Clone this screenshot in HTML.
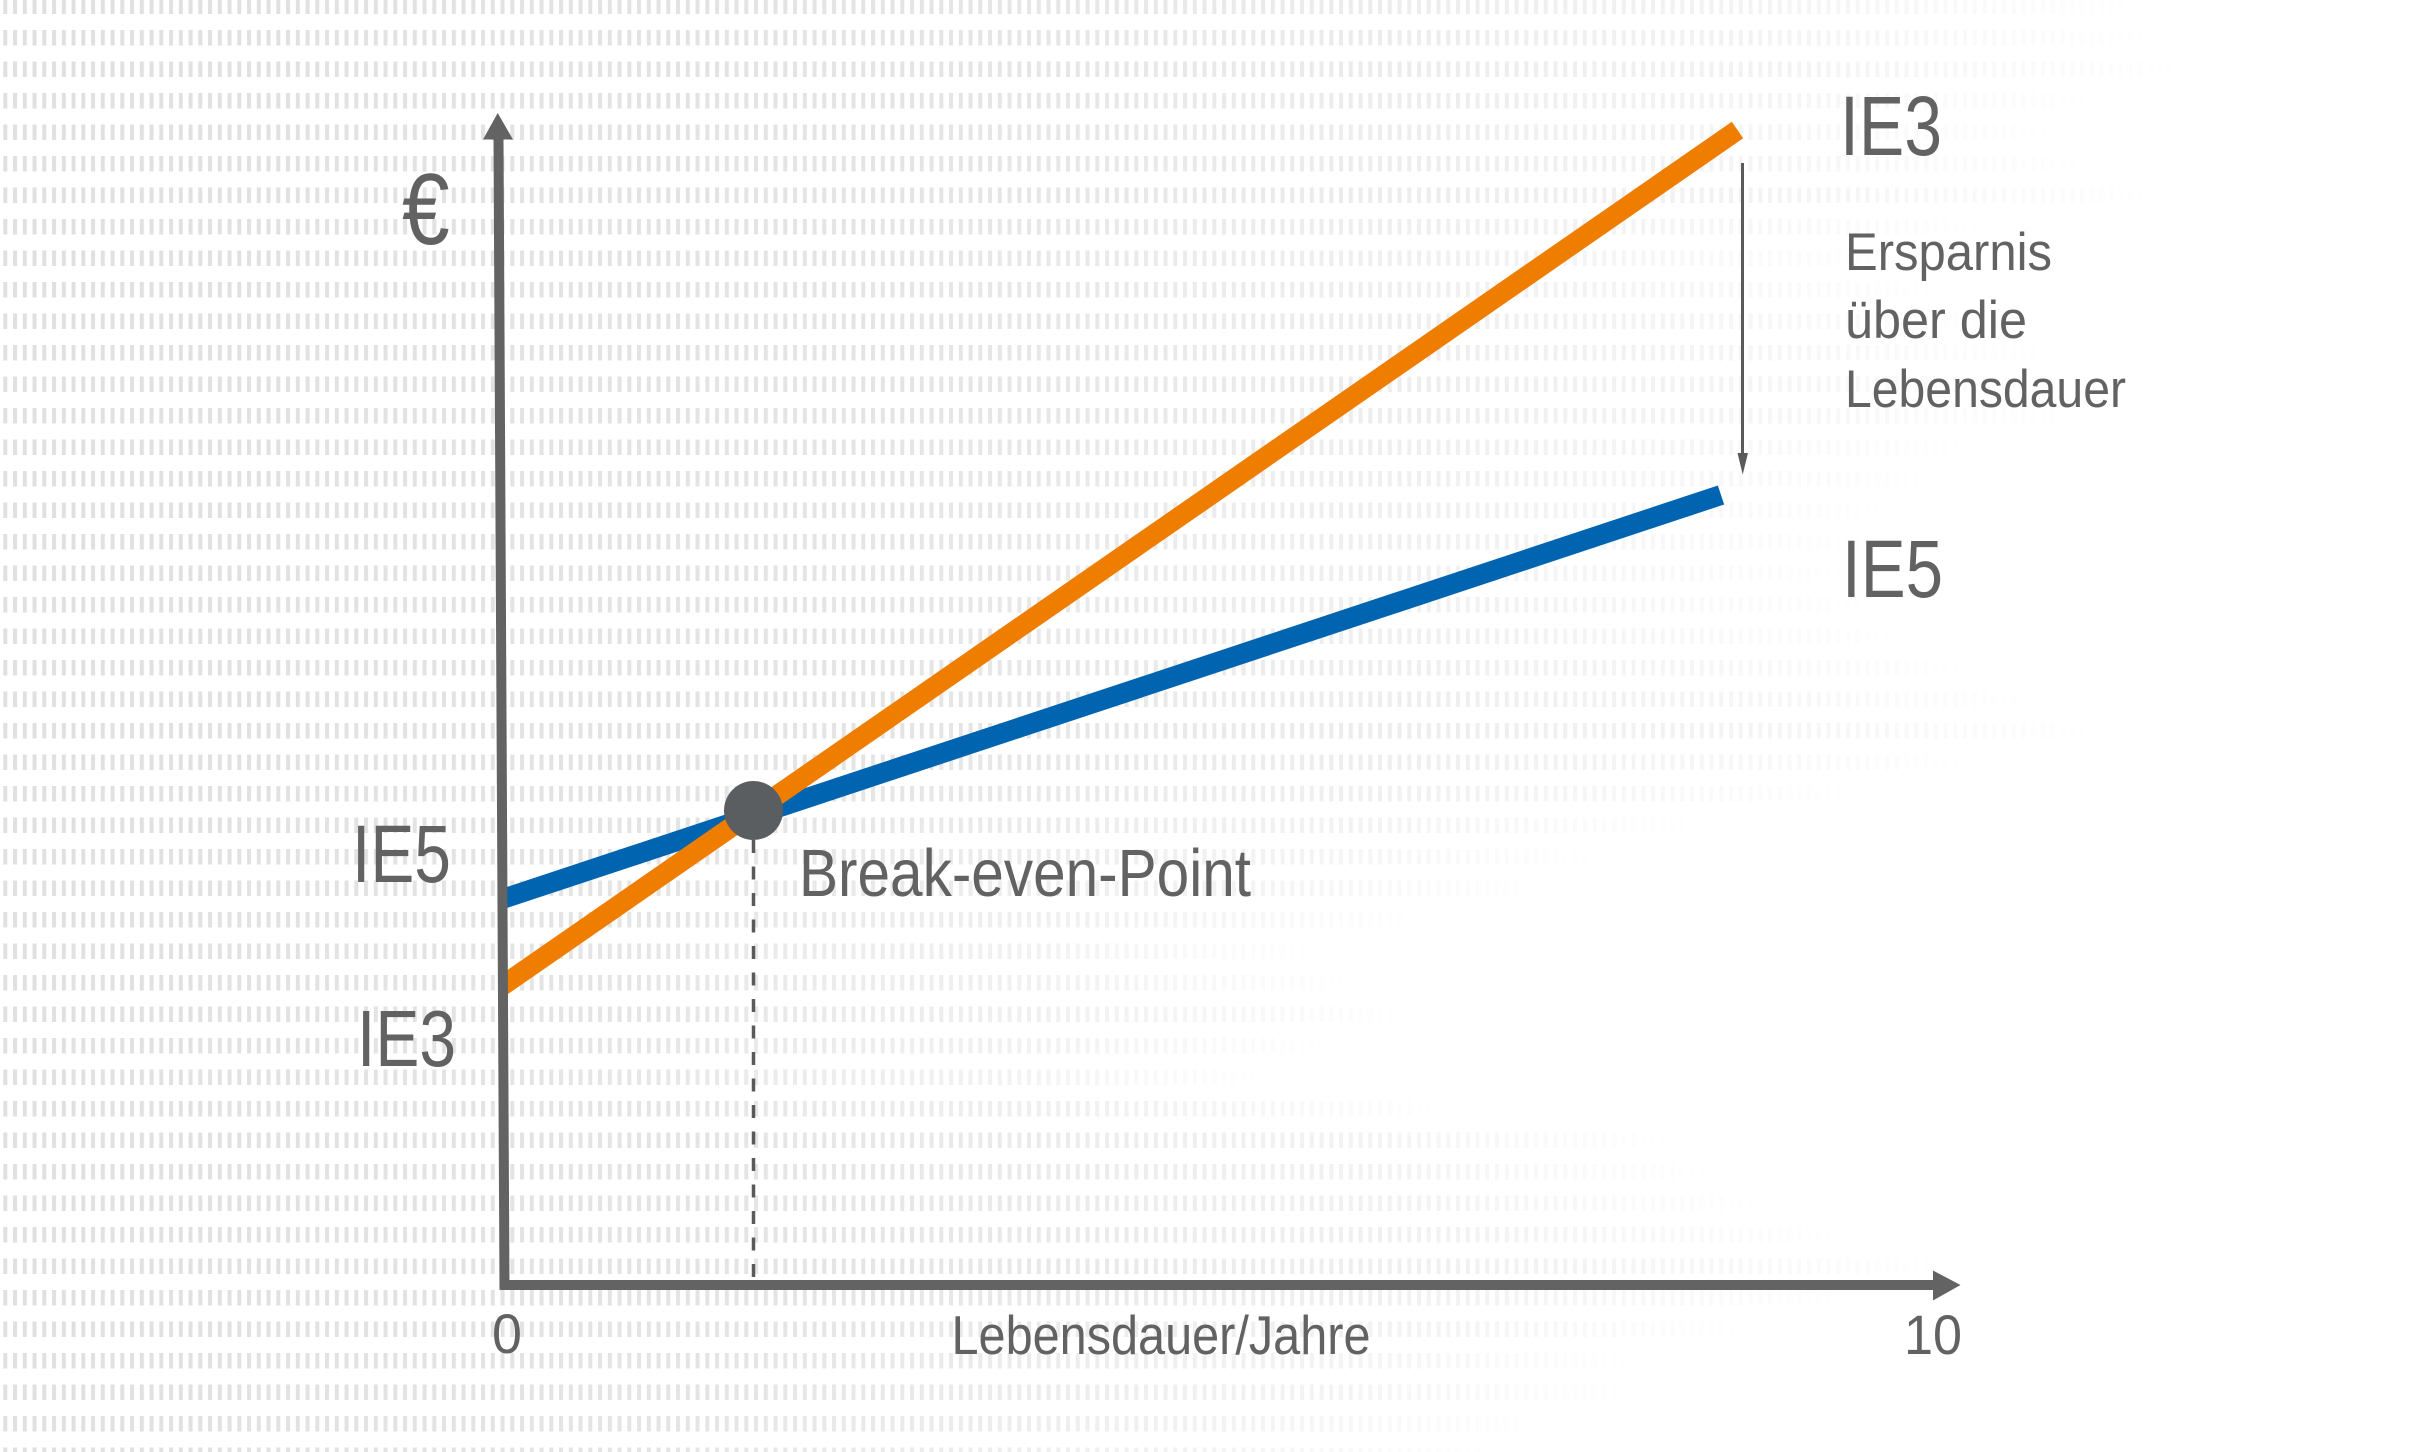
<!DOCTYPE html>
<html>
<head>
<meta charset="utf-8">
<style>
  html, body { margin: 0; padding: 0; background: #ffffff; }
  body { width: 2420px; height: 1452px; overflow: hidden; }
  svg { display: block; }
  text { font-family: "Liberation Sans", "DejaVu Sans", sans-serif; fill: #626262; }
</style>
</head>
<body>
<svg width="2420" height="1452" viewBox="0 0 2420 1452" xmlns="http://www.w3.org/2000/svg">
  <defs>
    <pattern id="dash" patternUnits="userSpaceOnUse" x="3.3" y="-1.5" width="9.75" height="31.5">
      <rect x="0" y="0" width="4" height="15.5" fill="#e0e0e0"/>
    </pattern>
    <linearGradient id="fg" x1="0" y1="0" x2="1" y2="0">
      <stop offset="0" stop-color="#ffffff" stop-opacity="1"/>
      <stop offset="0.45" stop-color="#ffffff" stop-opacity="0.85"/>
      <stop offset="0.8" stop-color="#ffffff" stop-opacity="0.4"/>
      <stop offset="1" stop-color="#ffffff" stop-opacity="0"/>
    </linearGradient>
    <mask id="bgmask" maskUnits="userSpaceOnUse" x="0" y="0" width="2420" height="1452">
      <rect x="0" y="-1.5" width="2150" height="31.5" fill="url(#fg)"/>
      <rect x="0" y="30" width="2160" height="31.5" fill="url(#fg)"/>
      <rect x="0" y="61.5" width="2200" height="31.5" fill="url(#fg)"/>
      <rect x="0" y="93" width="2110" height="31.5" fill="url(#fg)"/>
      <rect x="0" y="124.5" width="2070" height="31.5" fill="url(#fg)"/>
      <rect x="0" y="156" width="2100" height="31.5" fill="url(#fg)"/>
      <rect x="0" y="187.5" width="2170" height="31.5" fill="url(#fg)"/>
      <rect x="0" y="219" width="2000" height="31.5" fill="url(#fg)"/>
      <rect x="0" y="250.5" width="1910" height="31.5" fill="url(#fg)"/>
      <rect x="0" y="282" width="1950" height="31.5" fill="url(#fg)"/>
      <rect x="0" y="313.5" width="2020" height="31.5" fill="url(#fg)"/>
      <rect x="0" y="345" width="2060" height="31.5" fill="url(#fg)"/>
      <rect x="0" y="376.5" width="2090" height="31.5" fill="url(#fg)"/>
      <rect x="0" y="408" width="2080" height="31.5" fill="url(#fg)"/>
      <rect x="0" y="439.5" width="1980" height="31.5" fill="url(#fg)"/>
      <rect x="0" y="471" width="1940" height="31.5" fill="url(#fg)"/>
      <rect x="0" y="502.5" width="1900" height="31.5" fill="url(#fg)"/>
      <rect x="0" y="534" width="1880" height="31.5" fill="url(#fg)"/>
      <rect x="0" y="565.5" width="1860" height="31.5" fill="url(#fg)"/>
      <rect x="0" y="597" width="1880" height="31.5" fill="url(#fg)"/>
      <rect x="0" y="628.5" width="1910" height="31.5" fill="url(#fg)"/>
      <rect x="0" y="660" width="1980" height="31.5" fill="url(#fg)"/>
      <rect x="0" y="691.5" width="2040" height="31.5" fill="url(#fg)"/>
      <rect x="0" y="723" width="2110" height="31.5" fill="url(#fg)"/>
      <rect x="0" y="754.5" width="1980" height="31.5" fill="url(#fg)"/>
      <rect x="0" y="786" width="1860" height="31.5" fill="url(#fg)"/>
      <rect x="0" y="817.5" width="1700" height="31.5" fill="url(#fg)"/>
      <rect x="0" y="849" width="1600" height="31.5" fill="url(#fg)"/>
      <rect x="0" y="880.5" width="1540" height="31.5" fill="url(#fg)"/>
      <rect x="0" y="912" width="1420" height="31.5" fill="url(#fg)"/>
      <rect x="0" y="943.5" width="1320" height="31.5" fill="url(#fg)"/>
      <rect x="0" y="975" width="1360" height="31.5" fill="url(#fg)"/>
      <rect x="0" y="1006.5" width="1410" height="31.5" fill="url(#fg)"/>
      <rect x="0" y="1038" width="1330" height="31.5" fill="url(#fg)"/>
      <rect x="0" y="1069.5" width="1270" height="31.5" fill="url(#fg)"/>
      <rect x="0" y="1101" width="1450" height="31.5" fill="url(#fg)"/>
      <rect x="0" y="1132.5" width="1680" height="31.5" fill="url(#fg)"/>
      <rect x="0" y="1164" width="1720" height="31.5" fill="url(#fg)"/>
      <rect x="0" y="1195.5" width="1770" height="31.5" fill="url(#fg)"/>
      <rect x="0" y="1227" width="1850" height="31.5" fill="url(#fg)"/>
      <rect x="0" y="1258.5" width="1950" height="31.5" fill="url(#fg)"/>
      <rect x="0" y="1290" width="1850" height="31.5" fill="url(#fg)"/>
      <rect x="0" y="1321.5" width="1750" height="31.5" fill="url(#fg)"/>
      <rect x="0" y="1353" width="1640" height="31.5" fill="url(#fg)"/>
      <rect x="0" y="1384.5" width="1630" height="31.5" fill="url(#fg)"/>
      <rect x="0" y="1416" width="1540" height="31.5" fill="url(#fg)"/>
      <rect x="0" y="1447.5" width="1500" height="31.5" fill="url(#fg)"/>
    </mask>
    <clipPath id="plotclip">
      <rect x="504" y="0" width="1916" height="1452"/>
    </clipPath>
  </defs>

  <rect x="0" y="0" width="2420" height="1452" fill="#ffffff"/>
  <rect x="0" y="0" width="2420" height="1452" fill="url(#dash)" mask="url(#bgmask)"/>

  <g clip-path="url(#plotclip)">
    <line x1="490" y1="903.1" x2="1721" y2="495" stroke="#0064b0" stroke-width="20" stroke-linecap="butt"/>
    <line x1="490" y1="994.3" x2="1737.5" y2="130" stroke="#ee7d00" stroke-width="20" stroke-linecap="butt"/>
  </g>

  <line x1="753.5" y1="840" x2="753.5" y2="1281" stroke="#5a5a5a" stroke-width="3.5" stroke-dasharray="13 13.5"/>

  <circle cx="753.5" cy="810.5" r="29.5" fill="#5b5e61"/>

  <polygon points="493.5,139 503.5,139 509.5,1290 499.5,1290" fill="#636363"/>
  <polygon points="497.7,113 513,139.5 483,139.5" fill="#636363"/>
  <rect x="499.5" y="1280" width="1435" height="10" fill="#636363"/>
  <polygon points="1933,1270.5 1960.5,1285 1933,1300.5" fill="#636363"/>

  <rect x="1741" y="163" width="3" height="294" fill="#5a5a5a"/>
  <polygon points="1737.5,453 1748,453 1742.7,474.5" fill="#5a5a5a"/>

  <text x="402" y="244" font-size="101" textLength="47.7" lengthAdjust="spacingAndGlyphs">€</text>

  <text x="352" y="882" font-size="82" textLength="99" lengthAdjust="spacingAndGlyphs">IE5</text>
  <text x="357" y="1066" font-size="80" textLength="99" lengthAdjust="spacingAndGlyphs">IE3</text>

  <text x="1840" y="155" font-size="84" textLength="102" lengthAdjust="spacingAndGlyphs">IE3</text>
  <text x="1842" y="597" font-size="82" textLength="101" lengthAdjust="spacingAndGlyphs">IE5</text>

  <text x="1845" y="270" font-size="53" textLength="207" lengthAdjust="spacingAndGlyphs">Ersparnis</text>
  <text x="1845" y="338" font-size="53" textLength="182" lengthAdjust="spacingAndGlyphs">über die</text>
  <text x="1845" y="407" font-size="53" textLength="281" lengthAdjust="spacingAndGlyphs">Lebensdauer</text>

  <text x="799" y="896" font-size="67" textLength="452" lengthAdjust="spacingAndGlyphs">Break-even-Point</text>

  <text x="951.5" y="1354" font-size="54.5" textLength="419" lengthAdjust="spacingAndGlyphs">Lebensdauer/Jahre</text>
  <text x="492" y="1353" font-size="56" textLength="30" lengthAdjust="spacingAndGlyphs">0</text>
  <text x="1904" y="1354" font-size="56" textLength="58" lengthAdjust="spacingAndGlyphs">10</text>
</svg>
</body>
</html>
